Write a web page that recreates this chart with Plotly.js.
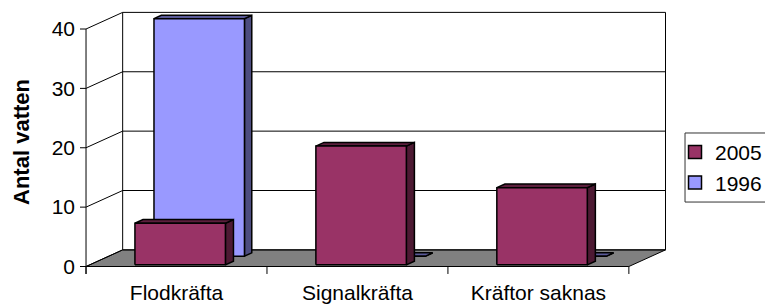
<!DOCTYPE html>
<html>
<head>
<meta charset="utf-8">
<script src="https://cdn.plot.ly/plotly-3.0.1.min.js"></script>
<style>html,body{margin:0;padding:0;background:#fff;}#chart{width:765px;height:307px;}</style>
</head>
<body>
<div id="chart"></div>
<script>
// ---- data ----
const categories = ['Flodkräfta', 'Signalkräfta', 'Kräftor saknas'];
const seriesNames = ['2005', '1996'];
const values2005 = [7, 20, 13];
const values1996 = [40, 0, 0];
const yTickValues = [0, 10, 20, 30, 40];
const yTickLabels = ['0', '10', '20', '30', '40'];

// ---- 3D projection parameters (in axis units) ----
const DX = 0.2024;   // depth offset along x
const DY = 2.8;      // depth offset along y
const BW = 0.5;      // bar width
const YMAX = 40;
const n = categories.length;
const xL = -0.5, xR = n - 0.5;
const FONT = '"Liberation Sans", Arial, sans-serif';

const col2005 = {front: '#993366', side: '#4d1a33', top: '#5c1f3d'};
const col1996 = {front: '#9999ff', side: '#4d4d80', top: '#5a5a99'};

function seg(arrX, arrY, pts) {
  pts.forEach(p => { arrX.push(p[0]); arrY.push(p[1]); });
  arrX.push(null); arrY.push(null);
}

// floor
const floor = {
  x: [xL, xR, xR + DX, xL + DX, xL],
  y: [0, 0, DY, DY, 0],
  mode: 'lines', fill: 'toself', fillcolor: '#808080',
  line: {color: '#000', width: 1}, showlegend: false, hoverinfo: 'skip'
};

// walls, gridlines, axis line, tick marks
const lx = [], ly = [];
yTickValues.forEach(v => {
  seg(lx, ly, [[xL, v], [xL + DX, v + DY], [xR + DX, v + DY]]);   // side diagonal + back gridline
  seg(lx, ly, [[xL - 0.0333, v], [xL, v]]);                        // y tick
});
seg(lx, ly, [[xL + DX, DY], [xL + DX, YMAX + DY]]);                 // back wall left edge
seg(lx, ly, [[xR + DX, DY], [xR + DX, YMAX + DY]]);                 // back wall right edge
seg(lx, ly, [[xL, -1.26], [xL, YMAX]]);                             // front axis line
for (let i = 0; i <= n; i++) seg(lx, ly, [[xL + i, 0], [xL + i, -1.26]]); // category boundary ticks
const lines = {
  x: lx, y: ly, mode: 'lines', line: {color: '#000', width: 1},
  showlegend: false, hoverinfo: 'skip', connectgaps: false
};

function barFaces(vals, t0, t1, col) {
  const fx = [], fy = [], sx = [], sy = [], tx = [], ty = [];
  const ox0 = t0 * DX, oy0 = t0 * DY, ox1 = t1 * DX, oy1 = t1 * DY;
  vals.forEach((v, i) => {
    const a = i - BW / 2, b = i + BW / 2;
    seg(sx, sy, [[b + ox0, oy0], [b + ox1, oy1], [b + ox1, v + oy1], [b + ox0, v + oy0], [b + ox0, oy0]]);
    seg(tx, ty, [[a + ox0, v + oy0], [b + ox0, v + oy0], [b + ox1, v + oy1], [a + ox1, v + oy1], [a + ox0, v + oy0]]);
    seg(fx, fy, [[a + ox0, oy0], [b + ox0, oy0], [b + ox0, v + oy0], [a + ox0, v + oy0], [a + ox0, oy0]]);
  });
  const mk = (x, y, c) => ({x, y, mode: 'lines', fill: 'toself', fillcolor: c,
    line: {color: '#000', width: 1.5}, showlegend: false, hoverinfo: 'skip'});
  return [mk(sx, sy, col.side), mk(tx, ty, col.top), mk(fx, fy, col.front)];
}

const back = barFaces(values1996, 0.62, 0.82, col1996);
const front = barFaces(values2005, 0.10, 0.32, col2005);

const leg2005 = {x: [null], y: [null], mode: 'markers', name: seriesNames[0],
  marker: {symbol: 'square', size: 13, color: col2005.front, line: {color: '#000', width: 1.5}}};
const leg1996 = {x: [null], y: [null], mode: 'markers', name: seriesNames[1],
  marker: {symbol: 'square', size: 13, color: col1996.front, line: {color: '#000', width: 1.5}}};

const data = [floor, lines, ...back, ...front, leg2005, leg1996];

const layout = {
  width: 765, height: 307,
  margin: {l: 78, r: 98, t: 8, b: 31, autoexpand: false},
  paper_bgcolor: '#fff', plot_bgcolor: 'rgba(0,0,0,0)',
  font: {family: FONT, size: 21, color: '#000'},
  showlegend: true,
  legend: {x: 1.0136, xanchor: 'left', y: 0.405, yanchor: 'middle',
    borderwidth: 0, bgcolor: 'rgba(0,0,0,0)',
    font: {family: FONT, size: 21, color: '#000'}, tracegroupgap: 0},
  shapes: [{type: 'rect', xref: 'paper', yref: 'paper', x0: 1.0306, x1: 1.17, y0: 0.276, y1: 0.5336,
    line: {color: '#333', width: 1}, fillcolor: 'rgba(0,0,0,0)', layer: 'above'}],
  xaxis: {range: [-0.5444, 2.7107], fixedrange: true, showgrid: false, zeroline: false, showline: false,
    tickmode: 'array', tickvals: categories.map((c, i) => i), ticktext: categories, ticks: '',
    ticklabelstandoff: 2, tickfont: {family: FONT, size: 21, color: '#000'}},
  yaxis: {range: [-1.6, 43.537], fixedrange: true, showgrid: false, zeroline: false, showline: false,
    tickmode: 'array', tickvals: yTickValues, ticktext: yTickLabels, ticks: '',
    ticklabelstandoff: 2, tickfont: {family: FONT, size: 21, color: '#000'},
    title: {text: '<b>Antal vatten</b>', font: {family: FONT, size: 22, color: '#000'}, standoff: 15}},
  hovermode: false
};

Plotly.newPlot('chart', data, layout, {staticPlot: true, displayModeBar: false});
</script>
</body>
</html>
